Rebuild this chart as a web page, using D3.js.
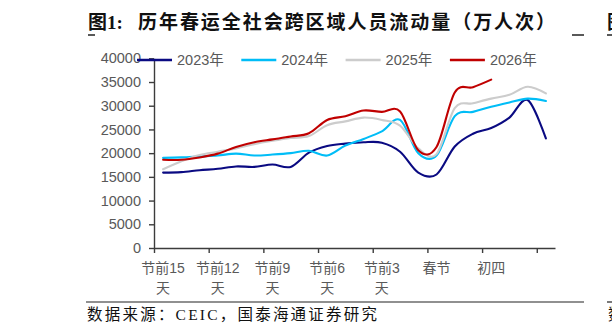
<!DOCTYPE html>
<html>
<head>
<meta charset="utf-8">
<script src="https://cdn.jsdelivr.net/npm/d3@7"></script>
<style>
  html, body { margin: 0; padding: 0; background: #fff; }
  svg { display: block; }
</style>
</head>
<body>
<svg id="chart" width="612" height="336"></svg>
<script>
// Days around the Spring Festival (one category per day)
const categories = [
  "节前15天","节前14天","节前13天","节前12天","节前11天","节前10天",
  "节前9天","节前8天","节前7天","节前6天","节前5天","节前4天",
  "节前3天","节前2天","节前1天","春节","初二","初三","初四","初五","初六","初七"
];
// Category labels printed under the axis
const tickLabels = ["节前15天","节前12天","节前9天","节前6天","节前3天","春节","初四"];
const yTicks = [0, 5000, 10000, 15000, 20000, 25000, 30000, 35000, 40000];

// Cross-regional passenger flow, 10k person-trips
const flow2023 = [15900,16000,16400,16700,17200,17100,17600,17100,20100,21500,22000,22300,22200,20300,15900,15500,21400,24100,25300,27500,31200,23100];
const flow2024 = [19000,19100,19300,19500,19900,19500,19700,20000,20500,19500,21600,23000,24600,27000,20000,19500,27800,28700,29800,30700,31500,31000];
const flow2025 = [16600,18300,19600,20300,21000,21900,22600,23200,23600,25900,26700,27500,27000,25800,21000,19800,29500,30500,31500,32300,34000,32600];
const flow2026 = [18600,18600,19100,19900,21300,22300,22900,23500,24200,27000,27800,29000,28700,28800,20600,21300,32800,33900,35500];

const seriesNames = ["2023年", "2024年", "2025年", "2026年"];
const seriesColors = ["#0a0a82", "#00bdf7", "#cccccc", "#c00000"];
const seriesValues = [flow2023, flow2024, flow2025, flow2026];

const svg = d3.select("#chart");
const numFont = "'Liberation Sans', Arial, 'Noto Sans CJK SC', sans-serif";
const axisColor = "#3c3c3c";
const textColor = "#595959";

svg.append("rect").attr("width", 612).attr("height", 336).attr("fill", "#fff");

// ---- Title row ----
const titleFont = "'Liberation Serif', 'Noto Sans CJK SC', serif";
svg.append("text")
  .attr("x", 88).attr("y", 29)
  .attr("font-family", titleFont).attr("font-weight", "bold").attr("font-size", 19)
  .attr("fill", "#111")
  .text("图1:");
svg.append("text")
  .attr("x", 138).attr("y", 29)
  .attr("font-family", titleFont).attr("font-weight", "bold").attr("font-size", 19)
  .attr("fill", "#111")
  .attr("textLength", 417).attr("lengthAdjust", "spacing")
  .text("历年春运全社会跨区域人员流动量（万人次）");
// next column's heading, cut by the page edge
svg.append("text")
  .attr("x", 607).attr("y", 29)
  .attr("font-family", titleFont).attr("font-weight", "bold").attr("font-size", 19)
  .attr("fill", "#111")
  .text("图2:");
[[88, 95], [572, 584], [607, 612]].forEach(([a, b]) => {
  svg.append("line").attr("x1", a).attr("x2", b).attr("y1", 35).attr("y2", 35)
    .attr("stroke", "#222").attr("stroke-width", 1.5);
});

// ---- Scales ----
const xBand = d3.scaleLinear().domain([0, categories.length]).range([154, 555]);
const xc = i => xBand(i + 0.5);
const y = d3.scaleLinear().domain([0, 40000]).range([248, 58.3]);

// ---- Y axis ----
const yAxis = svg.append("g").attr("transform", "translate(154,0)")
  .call(d3.axisLeft(y).tickValues(yTicks).tickSize(5).tickSizeOuter(0).tickPadding(8).tickFormat(d3.format("d")));
yAxis.selectAll("path, line").attr("stroke", axisColor).attr("stroke-width", 1.4);
yAxis.selectAll("text").attr("font-family", numFont).attr("font-size", 14.5).attr("fill", textColor);

// ---- X axis ----
const tickIdx = d3.range(0, categories.length, 3);
const xAxis = svg.append("g").attr("transform", "translate(0,248)")
  .call(d3.axisBottom(xBand).tickValues(tickIdx).tickSize(5).tickSizeOuter(0).tickFormat(""));
xAxis.selectAll("path, line").attr("stroke", axisColor).attr("stroke-width", 1.4);

const xLabels = svg.append("g")
  .attr("font-family", numFont).attr("font-size", 14).attr("fill", textColor)
  .attr("text-anchor", "middle");
tickLabels.forEach(lbl => {
  const i = categories.indexOf(lbl);
  const t = xLabels.append("text").attr("x", xc(i)).attr("y", 273);
  if (lbl.endsWith("天")) {
    t.append("tspan").attr("x", xc(i)).text(lbl.slice(0, -1));
    t.append("tspan").attr("x", xc(i)).attr("dy", 20).text("天");
  } else {
    t.text(lbl);
  }
});

// ---- Lines ----
const line = d3.line()
  .x((d, i) => xc(i))
  .y(d => y(d))
  .curve(d3.curveCardinal.tension(0));

svg.append("g").selectAll("path")
  .data(seriesValues)
  .join("path")
  .attr("d", d => line(d))
  .attr("fill", "none")
  .attr("stroke", (d, i) => seriesColors[i])
  .attr("stroke-width", 2.1)
  .attr("stroke-linejoin", "round")
  .attr("stroke-linecap", "round");

// ---- Legend ----
const legend = svg.append("g");
seriesNames.forEach((name, i) => {
  const lx = 137 + i * 104.3;
  legend.append("line")
    .attr("x1", lx).attr("x2", lx + 35).attr("y1", 60).attr("y2", 60)
    .attr("stroke", seriesColors[i]).attr("stroke-width", 2.5);
  legend.append("text")
    .attr("x", lx + 40).attr("y", 65.2)
    .attr("font-family", numFont).attr("font-size", 14.5).attr("fill", textColor)
    .text(name);
});

// ---- Source note ----
svg.append("line").attr("x1", 86).attr("x2", 584).attr("y1", 302).attr("y2", 302)
  .attr("stroke", "#222").attr("stroke-width", 1.2);
svg.append("line").attr("x1", 607).attr("x2", 612).attr("y1", 302).attr("y2", 302)
  .attr("stroke", "#222").attr("stroke-width", 1.2);
const noteFont = "'Liberation Serif', 'Noto Sans CJK SC', serif";
svg.append("text")
  .attr("x", 87).attr("y", 320)
  .attr("font-family", noteFont).attr("font-size", 15.5).attr("fill", "#111")
  .attr("textLength", 290).attr("lengthAdjust", "spacing")
  .text("数据来源：CEIC，国泰海通证券研究");
svg.append("text")
  .attr("x", 608).attr("y", 320)
  .attr("font-family", noteFont).attr("font-size", 15.5).attr("fill", "#111")
  .text("数据来源");
</script>
</body>
</html>
